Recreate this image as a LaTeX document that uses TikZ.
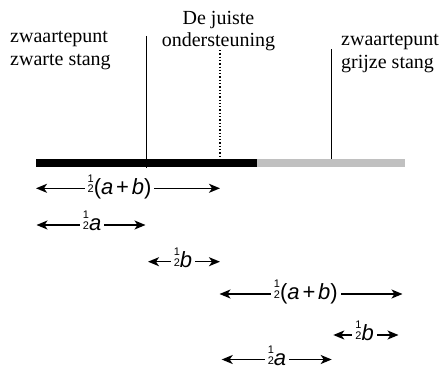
\documentclass[tikz,border=0pt]{standalone}
\usepackage{fontspec}
\setmainfont{Liberation Serif}
\newfontfamily\lblfont{Liberation Sans}
\usetikzlibrary{arrows.meta, positioning}
\definecolor{cGrijs}{RGB}{192,192,192}
\newcommand{\halfsym}{\raisebox{1.2pt}{\fontsize{11}{11}\selectfont\shortstack{1\\2}}}
\newcommand{\halfab}{\halfsym(\textit{a}\hspace{0.13em}+\hspace{0.13em}\textit{b})}

\begin{document}
\begin{tikzpicture}[x=1pt, y=-1pt,
      txt/.style={inner sep=0pt, font=\fontsize{20}{22.6}\selectfont, align=left},
      lbl/.style={fill=white, inner xsep=3pt, inner ysep=0pt, anchor=base, yshift=-5.7pt,
                  font=\lblfont\fontsize{22}{24}\selectfont},
      ar/.style={{Stealth[length=11pt, width=9pt, inset=3pt]}-{Stealth[length=11pt, width=9pt, inset=3pt]},
                 line width=1.5pt},
      pen/.style={line width=1.6pt}
    ]
    \useasboundingbox (0,0) rectangle (443,369);

    % labels (base = last line)
    \node[txt, anchor=base west] (zwart) at (10,65) {zwaartepunt\\zwarte stang};
    \node[txt, align=center, anchor=base] (steun) at (218.5,46.7) {De juiste\\ondersteuning};
    \node[txt, anchor=base west] (grijs) at (341,68.3) {zwaartepunt\\grijze stang};

    % the two bars
    \fill[black] (36,159.3) rectangle (257,166.7);
    \fill[cGrijs] (257,159.3) rectangle (405,166.7);

    % markers
    \coordinate (zTop) at (146.5,36);
    \coordinate (zBot) at (146.5,168);
    \coordinate (sTop) at (220,50);
    \coordinate (sBot) at (220,159.3);
    \coordinate (gTop) at (331.5,49);
    \coordinate (gBot) at (331.5,159.3);
    \draw[pen] (zTop) -- (zBot);
    \draw[pen, line width=1.3pt, dash pattern=on 1.3pt off 2pt] (sTop) -- (sBot);
    \draw[pen] (gTop) -- (gBot);

    % dimensions, black bar
    \coordinate (r1a) at (36,188.3);   \coordinate (r1b) at (220,188.3);
    \coordinate (r2a) at (36.5,225);   \coordinate (r2b) at (145.5,225);
    \coordinate (r3a) at (148,261.7);  \coordinate (r3b) at (220,261.7);
    \draw[ar] (r1a) -- node[lbl, pos=0.454] (l1) {\halfab} (r1b);
    \draw[ar] (r2a) -- node[lbl, pos=0.51] (l2) {\halfsym\textit{a}} (r2b);
    \draw[ar] (r3a) -- node[lbl, pos=0.486] (l3) {\halfsym\textit{b}} (r3b);

    % dimensions, grey bar
    \coordinate (r4a) at (219.5,294);  \coordinate (r4b) at (402.5,294);
    \coordinate (r5a) at (333.3,335);  \coordinate (r5b) at (398.5,335);
    \coordinate (r6a) at (221.7,359.5); \coordinate (r6b) at (331.7,359.5);
    \draw[ar] (r4a) -- node[lbl, pos=0.472] (l4) {\halfab} (r4b);
    \draw[ar] (r5a) -- node[lbl, pos=0.48] (l5) {\halfsym\textit{b}} (r5b);
    \draw[ar] (r6a) -- node[lbl, pos=0.503] (l6) {\halfsym\textit{a}} (r6b);
  \end{tikzpicture}
\end{document}
